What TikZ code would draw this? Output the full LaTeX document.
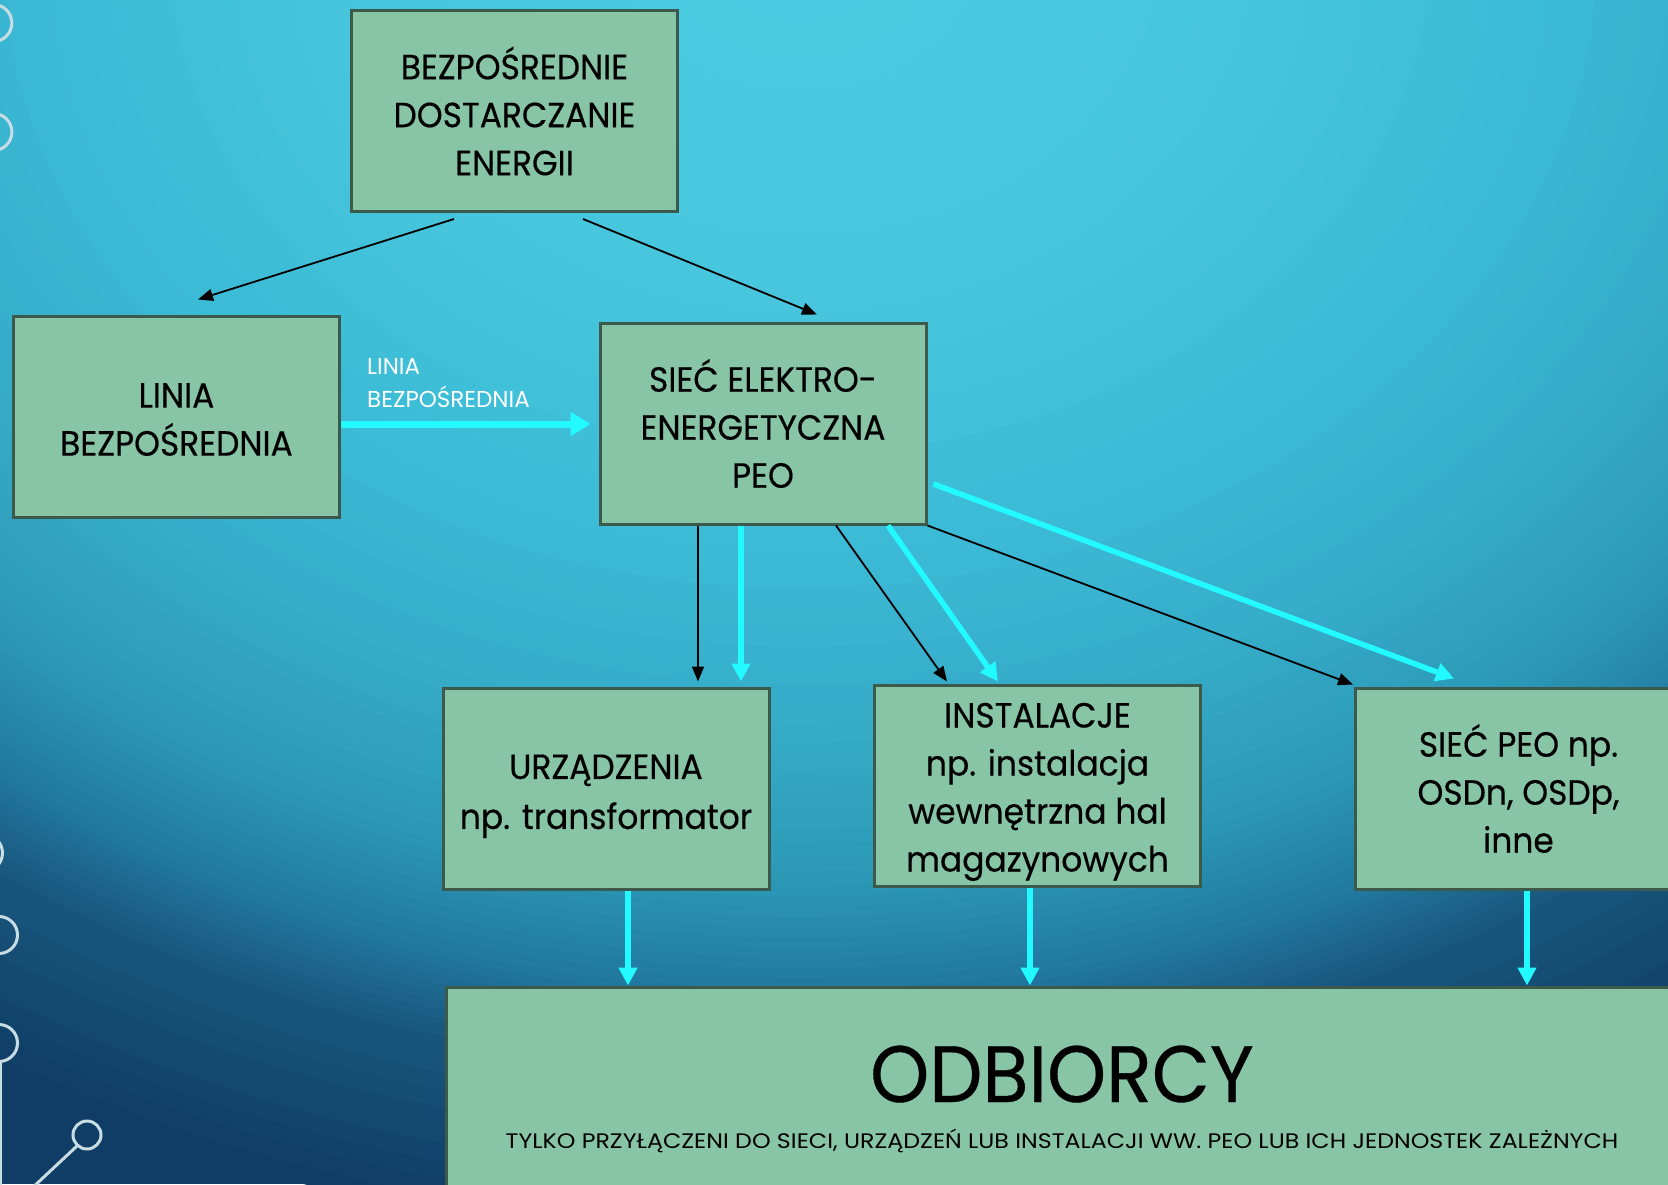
\documentclass[tikz,border=0pt]{standalone}
\usepackage{fontspec}
\setmainfont{Poppins}
\newfontfamily\bxfont{Poppins}[FakeStretch=0.94,FakeBold=0.4]
\newfontfamily\subfont{Poppins}[FakeStretch=1.13]
\usetikzlibrary{arrows.meta,calc}
\definecolor{boxfill}{HTML}{88C4A6}
\definecolor{boxline}{HTML}{3B5A4C}
\definecolor{cyanA}{HTML}{22FAFF}
\definecolor{deco}{HTML}{C8DCE4}
\definecolor{g0}{HTML}{0F3D65}
\definecolor{g1}{HTML}{19587F}
\definecolor{g2}{HTML}{227AA0}
\definecolor{g3}{HTML}{2B98B6}
\definecolor{g4}{HTML}{35ABC8}
\definecolor{g5}{HTML}{3CBBD6}
\definecolor{g6}{HTML}{47C6DD}
\definecolor{g7}{HTML}{4CCDE2}
\tikzset{
  box/.style={draw=boxline, line width=3pt, fill=boxfill, minimum width=326pt, minimum height=201pt,
    align=center, inner sep=0pt, font=\bxfont\fontsize{35}{48}\selectfont, text=black},
  blk/.style={draw=black, line width=1.8pt, -{Triangle[length=15pt,width=12pt]}},
  cyn/.style={draw=cyanA, line width=5.5pt, -{Triangle[length=18pt,width=18pt]}},
  cynwide/.style={draw=cyanA, line width=7pt, -{Triangle[length=20pt,width=23pt]}},
  decoline/.style={draw=deco, line width=3pt}
}
\begin{document}
\begin{tikzpicture}[x=1pt,y=-1pt]
\useasboundingbox (0,0) rectangle (1668,1184);
\begin{scope}
  \clip (0,0) rectangle (1668,1184);
  \fill[g0] (0,0) rectangle (1668,1184);
  \foreach \ra/\rb/\ca/\cb in {1.08/0.936/g0/g1, 0.936/0.866/g1/g2, 0.866/0.78/g2/g3, 0.78/0.66/g3/g4, 0.66/0.5/g4/g5, 0.5/0.3/g5/g6, 0.3/0.0/g6/g7}{
    \foreach \k in {0,...,9}{
      \pgfmathsetmacro\rr{\ra-(\ra-\rb)*\k/10}
      \pgfmathtruncatemacro\pp{100-10*\k}
      \fill[\ca!\pp!\cb] (800,-50) ellipse [x radius=\rr*1500, y radius=\rr*1200];
    }
  }
  % decorations on left edge
  \draw[decoline] (-6.6,23) circle (18.5);
  \draw[decoline] (-6.6,132) circle (18.5);
  \draw[decoline] (-16,853) circle (18.5);
  \draw[decoline] (-1,935) circle (18.5);
  \draw[decoline] (-1,1043) circle (18.5);
  \draw[decoline] (0,1061.5) -- (0,1190);
  \draw[decoline] (87,1135) circle (14);
  \draw[decoline] (77.5,1145.5) -- (30,1190);
\end{scope}

\node[box] (top) at (514.5,111) {BEZPOŚREDNIE\\DOSTARCZANIE\\ENERGII};
\node[box] (linia) at (176.5,416.5) {\rule{0pt}{30.5pt}LINIA\\BEZPOŚREDNIA};
\node[box] (siec) at (763,423.5) {SIEĆ ELEKTRO-\\ENERGETYCZNA\\PEO};
\node[box, font=\bxfont\fontsize{35}{50}\selectfont] (urz) at (606,788.5) {\rule{0pt}{40pt}URZĄDZENIA\\np. transformator};
\node[box] (inst) at (1037.5,785.5) {\rule{0pt}{37.5pt}INSTALACJE\\np. instalacja\\wewnętrzna hal\\magazynowych};
\node[box] (peo) at (1518.5,788.5) {SIEĆ PEO np.\\OSDn, OSDp,\\inne};
\node[box, minimum width=1234pt, minimum height=226pt] (odb) at (1063,1100) {};
\node[anchor=base, inner sep=0pt, font=\bxfont\fontsize{80}{86}\selectfont] (odbt) at (1062,1102) {ODBIORCY};
\node[anchor=base, inner sep=0pt, font=\subfont\fontsize{21}{24}\selectfont] (odbs) at (1062,1148) {TYLKO PRZYŁĄCZENI DO SIECI, URZĄDZEŃ LUB INSTALACJI WW. PEO LUB ICH JEDNOSTEK ZALEŻNYCH};
\node[anchor=south west, align=left, inner sep=0pt, text=white, font=\fontsize{23}{33}\selectfont] (lab) at (367,408) {LINIA\\BEZPOŚREDNIA};

% black arrows from top box
\draw[blk] ([xshift=-60.5pt,yshift=-6pt]top.south) -- ([xshift=21.5pt,yshift=15pt]linia.north);
\draw[blk] ([xshift=68.5pt,yshift=-6pt]top.south) -- ([xshift=54pt,yshift=7pt]siec.north);
% cyan horizontal
\draw[cynwide] ([yshift=-7.5pt]linia.east) -- ([xshift=-8pt,yshift=-0.5pt]siec.west);
% from siec
\draw[blk] ([xshift=-65pt]siec.south) -- ([xshift=92pt,yshift=5pt]urz.north);
\draw[cyn] ([xshift=-22pt]siec.south) -- ([xshift=135pt,yshift=5pt]urz.north);
\draw[blk] ([xshift=73pt]siec.south) -- ([xshift=-90.5pt,yshift=2pt]inst.north);
\draw[cyn] ([xshift=125pt]siec.south) -- ([xshift=-39.5pt,yshift=2pt]inst.north);
\draw[blk] (siec.south east) -- ([xshift=-1pt,yshift=2pt]peo.north west);
\draw[cyn] ([xshift=6pt,yshift=-60.5pt]siec.east) -- ([xshift=-64.5pt,yshift=8pt]peo.north);
% to odbiorcy
\draw[cyn] ([xshift=22pt]urz.south) -- ([xshift=22pt]urz.south |- odb.north);
\draw[cyn] ([xshift=-7.5pt]inst.south) -- ([xshift=-7.5pt]inst.south |- odb.north);
\draw[cyn] ([xshift=8.5pt]peo.south) -- ([xshift=8.5pt]peo.south |- odb.north);
\end{tikzpicture}
\end{document}
